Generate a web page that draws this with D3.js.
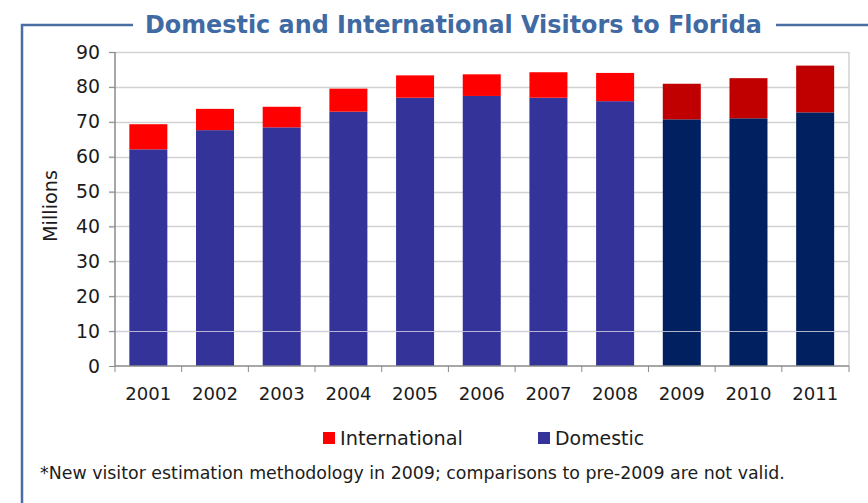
<!DOCTYPE html>
<html><head><meta charset="utf-8">
<script src="https://cdn.jsdelivr.net/npm/d3@7"></script>
<style>body{margin:0;background:#fff;}svg{display:block;}</style>
</head><body>
<svg id="c" width="868" height="503"></svg>
<script>
const years = ["2001","2002","2003","2004","2005","2006","2007","2008","2009","2010","2011"];
const domestic = [62.1,67.6,68.4,72.9,76.9,77.4,76.9,75.9,70.7,71.0,72.7];
const international = [7.2,6.1,5.9,6.6,6.4,6.2,7.3,8.1,10.2,11.5,13.4];
const newMethod = [false,false,false,false,false,false,false,false,true,true,true];
const yTicks = [0,10,20,30,40,50,60,70,80,90];
const seriesNames = ["International","Domestic"];
const titleText = "Domestic and International Visitors to Florida";
const footnote = "*New visitor estimation methodology in 2009; comparisons to pre-2009 are not valid.";

const svg = d3.select("#c");
const font = "DejaVu Sans, Verdana, sans-serif";
const txt = "#1c1c1c";
const frameCol = "#4a6ea3";

const x = d3.scaleBand().domain(years).range([115, 848.5]).paddingInner(0.43).paddingOuter(0.215);
const y = d3.scaleLinear().domain([0, 90]).range([366, 52]);

function fit(sel, w){
  const n = sel.node(); let fs = parseFloat(sel.attr("font-size"));
  for(let i=0;i<3;i++){ const l=n.getComputedTextLength(); fs*=w/l; sel.attr("font-size",fs); }
  return fs;
}

// frame
const tt = svg.append("text").attr("x",453.5).attr("y",33).attr("text-anchor","middle")
  .attr("font-family",font).attr("font-weight","bold").attr("font-size",22).attr("fill","#3f6aa3").text(titleText);
fit(tt,617);
svg.append("path").attr("d","M22,503 L22,25 L133,25").attr("fill","none").attr("stroke",frameCol).attr("stroke-width",2.5);
svg.append("path").attr("d","M776,25 L868,25").attr("fill","none").attr("stroke",frameCol).attr("stroke-width",2.5);

// gridlines
svg.append("g").selectAll("line").data(yTicks.filter(d=>d>0)).join("line")
  .attr("x1",109).attr("x2",849).attr("y1",d=>Math.round(y(d))+0.5).attr("y2",d=>Math.round(y(d))+0.5)
  .attr("stroke","#d2d2d2").attr("stroke-width",1.5);
svg.append("line").attr("x1",849).attr("x2",849).attr("y1",52).attr("y2",366).attr("stroke","#d2d2d2").attr("stroke-width",1.5);

// bars
const g = svg.append("g");
g.selectAll("rect.dom").data(years).join("rect").attr("class","dom")
  .attr("x",d=>x(d)).attr("width",x.bandwidth())
  .attr("y",(d,i)=>y(domestic[i])).attr("height",(d,i)=>y(0)-y(domestic[i]))
  .attr("fill",(d,i)=>newMethod[i]?"#002060":"#333399");
g.selectAll("rect.int").data(years).join("rect").attr("class","int")
  .attr("x",d=>x(d)).attr("width",x.bandwidth())
  .attr("y",(d,i)=>y(domestic[i]+international[i])).attr("height",(d,i)=>y(domestic[i])-y(domestic[i]+international[i]))
  .attr("fill",(d,i)=>newMethod[i]?"#c00000":"#ff0000");

// gridline at 10 shows over bars
svg.append("line").attr("x1",109).attr("x2",849).attr("y1",Math.round(y(10))+0.5).attr("y2",Math.round(y(10))+0.5)
  .attr("stroke","#cfcfe0").attr("stroke-width",1.2).attr("opacity",0.85);

// y axis
const ya = svg.append("g").attr("transform","translate(115,0)")
  .call(d3.axisLeft(y).tickValues(yTicks).tickSize(6).tickPadding(9));
ya.select(".domain").attr("stroke","#8a8a8a").attr("stroke-width",1.5).attr("d","M0,52V366");
ya.selectAll(".tick line").attr("stroke","#8a8a8a").attr("stroke-width",1);
ya.selectAll("text").attr("font-family",font).attr("font-size",17).attr("fill",txt);
const yfs = fit(ya.selectAll(".tick text").filter(d=>d===90), 24);
ya.selectAll("text").attr("font-size",yfs);

// x axis
const xa = svg.append("g").attr("transform","translate(0,366)")
  .call(d3.axisBottom(x).tickSize(0).tickPadding(21));
xa.select(".domain").attr("stroke","#8a8a8a").attr("stroke-width",1.5).attr("d","M115,0H849");
xa.selectAll("text").attr("font-family",font).attr("font-size",17).attr("fill",txt);
const xfs = fit(xa.selectAll(".tick text").filter(d=>d==="2001"), 46);
xa.selectAll("text").attr("font-size",xfs);
const bounds = years.map(d=>x(d)-x.step()*x.paddingInner()/2).concat([849]);
svg.append("g").selectAll("line").data(bounds).join("line")
  .attr("x1",d=>d).attr("x2",d=>d).attr("y1",366).attr("y2",372).attr("stroke","#8a8a8a").attr("stroke-width",1);

// y label
const yl = svg.append("text").attr("transform","translate(57,206) rotate(-90)").attr("text-anchor","middle")
  .attr("font-family",font).attr("font-size",16).attr("fill",txt).text("Millions");
fit(yl,72);

// legend
const legX = [323, 538];
const legW = [123, 89];
const legCol = ["#ff0000","#333399"];
const lg = svg.append("g").selectAll("g").data(seriesNames).join("g");
lg.append("rect").attr("x",(d,i)=>legX[i]).attr("y",432).attr("width",12).attr("height",12).attr("fill",(d,i)=>legCol[i]);
lg.append("text").attr("x",(d,i)=>legX[i]+17).attr("y",445).attr("font-family",font).attr("font-size",17).attr("fill",txt).text(d=>d)
  .each(function(d,i){ fit(d3.select(this), legW[i]); });

// footnote
const fn = svg.append("text").attr("x",40).attr("y",479).attr("font-family",font).attr("font-size",15).attr("fill",txt).text(footnote);
fit(fn,745);
</script>
</body></html>
